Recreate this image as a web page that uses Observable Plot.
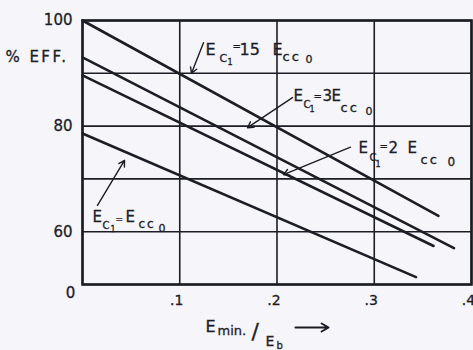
<!DOCTYPE html>
<html>
<head>
<meta charset="utf-8">
<script src="https://cdn.jsdelivr.net/npm/d3@7"></script>
<script src="https://cdn.jsdelivr.net/npm/@observablehq/plot@0.6"></script>
<style>
  html, body { margin: 0; padding: 0; background: #f5f5fa; }
  #chart { width: 473px; height: 350px; overflow: hidden; }
</style>
</head>
<body>
<div id="chart"></div>
<script>
// ---- data ----
const series   = ["Ec1=15Ecc0", "Ec1=3Ecc0", "Ec1=2Ecc0", "Ec1=Ecc0"];
const xStart   = [0, 0, 0, 0];
const xEnd     = [0.366, 0.382, 0.361, 0.343];
const effStart = [100, 93.0, 89.6, 78.6];
const effEnd   = [63.0, 56.9, 57.3, 51.4];

const xGrid = [0, 0.1, 0.2, 0.3, 0.4];
const yGrid = [50, 60, 70, 80, 90, 100];
const yTicks = [60, 80, 100];
const xTicks = [0.1, 0.2, 0.3, 0.4];
const xTickLabels = [".1", ".2", ".3", ".4"];

// line rows
const rows = series.flatMap((s, i) => [
  {series: s, x: xStart[i], y: effStart[i]},
  {series: s, x: xEnd[i], y: effEnd[i]}
]);

// annotation labels: anchor in data units, parts [text, dx, dy, size]
const labels = [
  {x: 0.1265, y: 94.5, parts: [["E",0,0,16],["C",14,9,11],["1",22,13,8],["=",27,-3,10],["15",34,0,16],["E",67,0,16],["cc",77,7,13],["0",100,10,11]]},
  {x: 0.2170, y: 85.6, parts: [["E",0,0,15],["C",10,8,10],["1",16,13,8],["=",20,0,10],["3",29,0,15],["E",38,0,15],["cc",47,11,13],["0",72,15,11]]},
  {x: 0.2838, y: 75.8, parts: [["E",0,0,15],["C",11,10,10],["1",17,16,8],["=",21,-1,10],["2",30,0,15],["E",49,0,15],["cc",62,12,13],["0",89,14,12]]},
  {x: 0.0103, y: 62.7, parts: [["E",0,0,15],["C",10,8,10],["1",18,12,8],["=",23,2,9],["E",33,0,15],["cc",46,7,12],["0",66,11,11]]}
];
// arrows (data units)
const arrows = [
  {x1: 0.1244, y1: 95.8, x2: 0.1121, y2: 90.0},
  {x1: 0.2159, y1: 85.4, x2: 0.1697, y2: 79.7},
  {x1: 0.2756, y1: 76.0, x2: 0.2067, y2: 70.8},
  {x1: 0.0154, y1: 65.0, x2: 0.0432, y2: 73.5}
];
// x-axis title pieces, anchored at (xTitleX, bottom of y domain)
const xTitleX = 0.1265;
const xTitle = [["E",0,42,16],["min.",12,46,13],["/",46,47,22],["E",60,57,14],["b",71,61,10]];

const ink = "#1d1d26";
const font = "DejaVu Sans, sans-serif";

const labelMarks = labels.flatMap(l => l.parts.map(p =>
  Plot.text([l], {x: "x", y: "y", text: () => p[0], dx: p[1], dy: p[2], fontSize: p[3],
    textAnchor: "start", lineAnchor: "middle", fill: ink})
));
const titleMarks = xTitle.map(p =>
  Plot.text([{x: xTitleX, y: 50}], {x: "x", y: "y", text: () => p[0], dx: p[1], dy: p[2], fontSize: p[3],
    textAnchor: "start", lineAnchor: "middle", fill: ink})
);

const chart = Plot.plot({
  width: 473,
  height: 350,
  marginLeft: 82,
  marginRight: 2,
  marginTop: 20,
  marginBottom: 66,
  style: {background: "#f5f5fa", fontFamily: font, color: ink, overflow: "visible"},
  x: {domain: [0, 0.4]},
  y: {domain: [50, 100]},
  marks: [
    Plot.ruleX(xGrid, {stroke: ink, strokeWidth: 1.6}),
    Plot.ruleY(yGrid, {stroke: ink, strokeWidth: 1.6}),
    Plot.frame({stroke: ink, strokeWidth: 2.6}),
    Plot.axisY(yTicks, {tickSize: 0, tickPadding: 10, fontSize: 15, label: null}),
    Plot.axisX(xTicks, {tickSize: 0, tickPadding: 11, fontSize: 14, label: null, dx: -3,
      tickFormat: d => xTickLabels[xTicks.indexOf(d)]}),
    Plot.text([{x: 0, y: 50}], {x: "x", y: "y", text: () => "0", dx: -12, dy: 9, fontSize: 15, fill: ink}),
    Plot.text([{x: 0, y: 93.0}], {x: "x", y: "y", text: () => "% EFF.", dx: -14, fontSize: 15,
      textAnchor: "end", lineAnchor: "middle", fill: ink}),
    Plot.line(rows, {x: "x", y: "y", z: "series", stroke: ink, strokeWidth: 2.6}),
    Plot.arrow(arrows, {x1: "x1", y1: "y1", x2: "x2", y2: "y2", stroke: ink, strokeWidth: 1.4, headLength: 7}),
    Plot.arrow([{x1: 0.219, x2: 0.253, y: 50}], {x1: "x1", x2: "x2", y1: "y", y2: "y", dy: 43, stroke: ink, strokeWidth: 2, headLength: 6}),
    ...labelMarks,
    ...titleMarks
  ]
});

// lettering style: slightly heavier strokes, wider "cc" and y title
d3.select(chart).selectAll("text")
  .attr("stroke", ink).attr("stroke-width", 0.3).attr("paint-order", "fill");
d3.select(chart).selectAll("text").filter(function() { return this.textContent === "cc"; })
  .attr("letter-spacing", "2px");
d3.select(chart).selectAll("text").filter(function() { return this.textContent === "% EFF."; })
  .attr("letter-spacing", "2.5px");

document.getElementById("chart").appendChild(chart);
</script>
</body>
</html>
